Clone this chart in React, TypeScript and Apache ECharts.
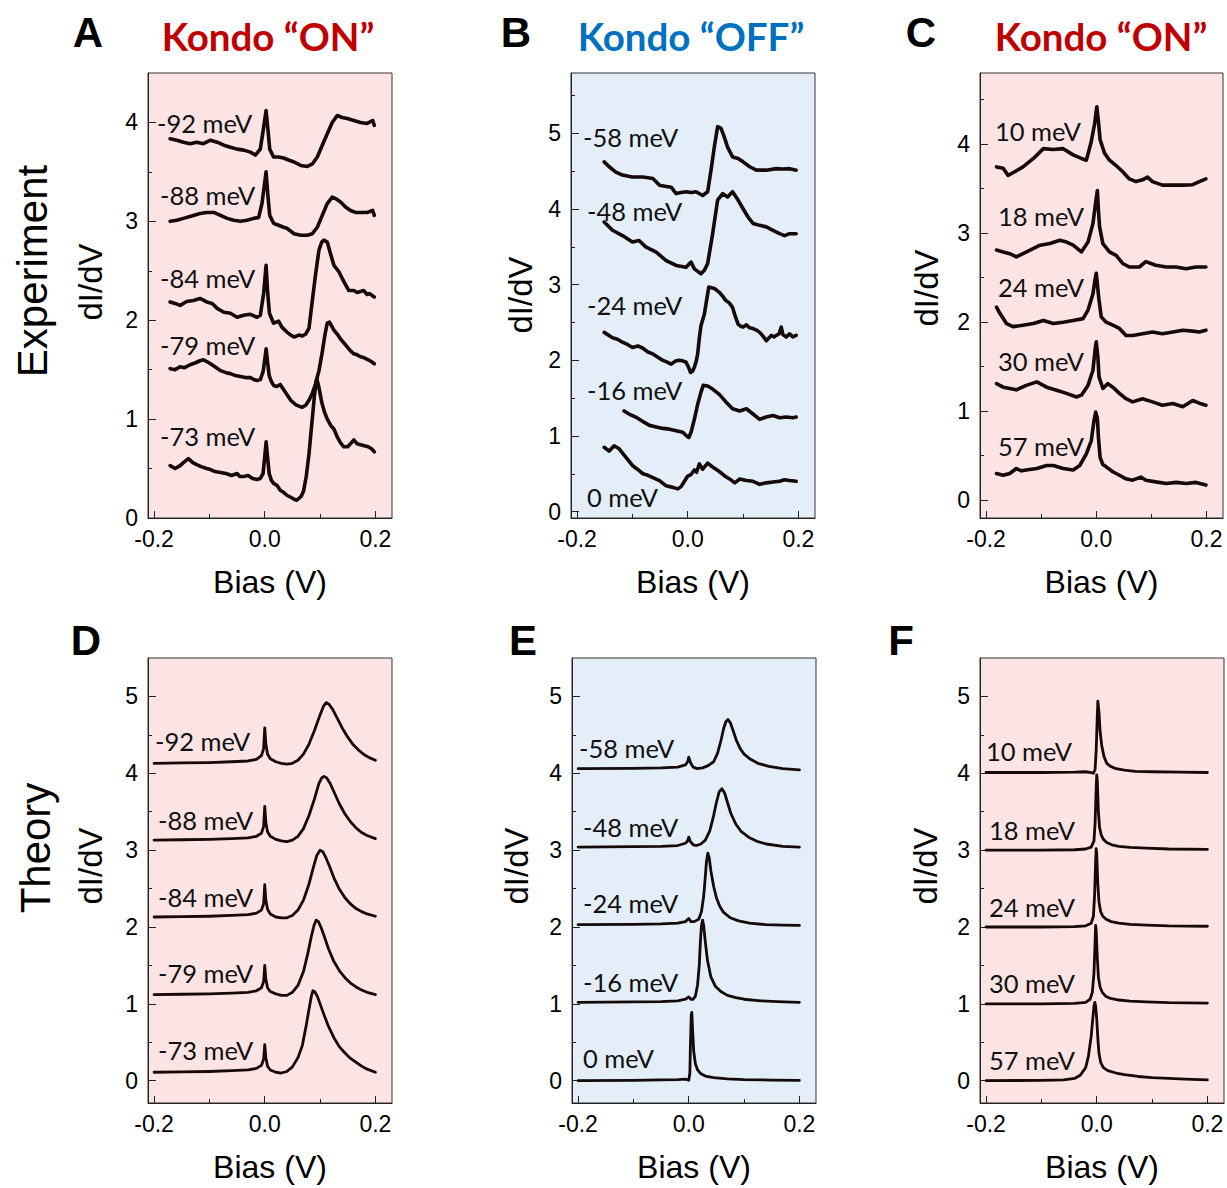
import React, { useEffect, useRef } from "react";
import * as echarts from "echarts";

// ---------- tick values ----------
const X_MAJOR = [-0.2, 0, 0.2];
const X_MINOR = [-0.1, 0.1];
const Y_MAJOR_A = [0, 1, 2, 3, 4];
const Y_MINOR_A = [0.5, 1.5, 2.5, 3.5];
const Y_MAJOR_B = [0, 1, 2, 3, 4, 5];
const Y_MINOR_B = [0.5, 1.5, 2.5, 3.5, 4.5, 5.5];
const Y_MAJOR_C = [0, 1, 2, 3, 4];
const Y_MINOR_C = [0.5, 1.5, 2.5, 3.5, 4.5];
const Y_MAJOR_T = [0, 1, 2, 3, 4, 5];
const Y_MINOR_T = [0.5, 1.5, 2.5, 3.5, 4.5];

// ---------- labels ----------
const LABELS_A = ["-73 meV", "-79 meV", "-84 meV", "-88 meV", "-92 meV"];
const LABELS_B = ["0 meV", "-16 meV", "-24 meV", "-48 meV", "-58 meV"];
const LABELS_C = ["57 meV", "30 meV", "24 meV", "18 meV", "10 meV"];

// ---------- Panel A (experiment) ----------
const A_m73 = [[-0.171,0.53],[-0.162,0.50],[-0.153,0.53],[-0.147,0.56],[-0.138,0.60],[-0.13,0.56],[-0.123,0.54],[-0.115,0.52],[-0.105,0.50],[-0.098,0.49],[-0.09,0.47],[-0.08,0.46],[-0.07,0.45],[-0.06,0.43],[-0.05,0.45],[-0.045,0.42],[-0.038,0.42],[-0.03,0.43],[-0.022,0.40],[-0.014,0.39],[-0.008,0.40],[-0.003,0.45],[0.0,0.62],[0.0025,0.77],[0.005,0.62],[0.008,0.45],[0.012,0.38],[0.016,0.35],[0.022,0.33],[0.028,0.28],[0.034,0.26],[0.04,0.23],[0.047,0.21],[0.053,0.19],[0.058,0.18],[0.062,0.20],[0.066,0.22],[0.07,0.27],[0.075,0.42],[0.08,0.65],[0.085,0.95],[0.09,1.25],[0.094,1.41],[0.098,1.32],[0.103,1.17],[0.108,1.07],[0.113,1.00],[0.12,0.93],[0.125,0.90],[0.131,0.82],[0.137,0.76],[0.143,0.72],[0.15,0.72],[0.155,0.75],[0.161,0.79],[0.167,0.75],[0.173,0.74],[0.18,0.73],[0.187,0.72],[0.193,0.70],[0.198,0.67]];
const A_m79 = [[-0.171,1.51],[-0.162,1.50],[-0.153,1.53],[-0.145,1.52],[-0.135,1.55],[-0.125,1.57],[-0.117,1.59],[-0.111,1.60],[-0.104,1.58],[-0.098,1.56],[-0.09,1.53],[-0.08,1.49],[-0.07,1.47],[-0.062,1.46],[-0.053,1.44],[-0.044,1.43],[-0.035,1.42],[-0.026,1.42],[-0.02,1.40],[-0.014,1.39],[-0.008,1.40],[-0.003,1.48],[0.0005,1.62],[0.0025,1.71],[0.005,1.58],[0.008,1.44],[0.012,1.38],[0.016,1.34],[0.022,1.33],[0.028,1.35],[0.034,1.30],[0.04,1.25],[0.047,1.19],[0.055,1.15],[0.062,1.13],[0.068,1.12],[0.074,1.14],[0.08,1.19],[0.086,1.26],[0.092,1.36],[0.098,1.49],[0.104,1.68],[0.109,1.86],[0.113,1.97],[0.117,1.98],[0.121,1.94],[0.125,1.90],[0.131,1.86],[0.137,1.81],[0.143,1.77],[0.149,1.73],[0.155,1.69],[0.161,1.66],[0.167,1.65],[0.173,1.63],[0.18,1.62],[0.187,1.60],[0.193,1.58],[0.198,1.56]];
const A_m84 = [[-0.171,2.185],[-0.162,2.17],[-0.153,2.15],[-0.141,2.19],[-0.129,2.20],[-0.117,2.22],[-0.105,2.185],[-0.095,2.17],[-0.086,2.12],[-0.074,2.08],[-0.062,2.07],[-0.05,2.03],[-0.038,2.05],[-0.026,2.06],[-0.014,2.03],[-0.008,2.05],[-0.002,2.27],[0.0024,2.555],[0.0054,2.27],[0.0085,2.07],[0.016,1.97],[0.025,1.99],[0.031,1.93],[0.04,1.88],[0.047,1.85],[0.053,1.83],[0.062,1.85],[0.068,1.84],[0.074,1.86],[0.08,1.92],[0.086,2.20],[0.092,2.47],[0.098,2.71],[0.103,2.79],[0.107,2.81],[0.113,2.79],[0.119,2.67],[0.125,2.555],[0.134,2.49],[0.143,2.39],[0.152,2.30],[0.161,2.30],[0.167,2.28],[0.173,2.29],[0.179,2.30],[0.185,2.26],[0.189,2.27],[0.198,2.235]];
const A_m88 = [[-0.171,3.00],[-0.159,3.01],[-0.147,3.03],[-0.129,3.06],[-0.117,3.08],[-0.105,3.09],[-0.092,3.09],[-0.08,3.06],[-0.068,3.03],[-0.056,3.01],[-0.044,3.00],[-0.032,3.01],[-0.02,3.03],[-0.011,3.04],[-0.005,3.18],[0.0024,3.50],[0.0054,3.28],[0.009,3.06],[0.016,2.98],[0.025,2.96],[0.034,2.94],[0.04,2.93],[0.053,2.875],[0.065,2.86],[0.077,2.86],[0.086,2.875],[0.095,2.94],[0.104,3.06],[0.113,3.18],[0.122,3.245],[0.128,3.23],[0.137,3.195],[0.146,3.145],[0.155,3.11],[0.164,3.09],[0.173,3.09],[0.185,3.09],[0.195,3.11],[0.198,3.06]];
const A_m92 = [[-0.171,3.835],[-0.159,3.82],[-0.147,3.80],[-0.135,3.785],[-0.123,3.80],[-0.111,3.785],[-0.098,3.82],[-0.086,3.80],[-0.074,3.77],[-0.062,3.75],[-0.05,3.73],[-0.038,3.72],[-0.026,3.70],[-0.017,3.67],[-0.008,3.73],[-0.002,3.95],[0.0024,4.12],[0.0054,3.95],[0.009,3.73],[0.016,3.65],[0.025,3.65],[0.034,3.64],[0.043,3.62],[0.053,3.60],[0.065,3.565],[0.077,3.555],[0.086,3.58],[0.095,3.65],[0.104,3.77],[0.113,3.885],[0.122,4.00],[0.131,4.07],[0.14,4.05],[0.149,4.04],[0.161,4.02],[0.173,4.00],[0.185,3.99],[0.195,4.02],[0.198,3.97]];

// ---------- Panel B (experiment) ----------
const B_0 = [[-0.151,0.85],[-0.142,0.80],[-0.133,0.87],[-0.124,0.83],[-0.112,0.72],[-0.1,0.61],[-0.091,0.56],[-0.081,0.50],[-0.072,0.48],[-0.063,0.45],[-0.051,0.41],[-0.039,0.34],[-0.027,0.32],[-0.018,0.30],[-0.012,0.33],[-0.006,0.40],[0.0,0.47],[0.006,0.49],[0.012,0.55],[0.016,0.52],[0.021,0.63],[0.027,0.56],[0.036,0.64],[0.045,0.59],[0.057,0.53],[0.069,0.46],[0.078,0.42],[0.085,0.38],[0.094,0.43],[0.106,0.41],[0.118,0.40],[0.13,0.36],[0.142,0.38],[0.154,0.39],[0.166,0.40],[0.175,0.42],[0.184,0.41],[0.196,0.40]];
const B_m16 = [[-0.115,1.33],[-0.106,1.29],[-0.094,1.25],[-0.081,1.19],[-0.069,1.14],[-0.057,1.12],[-0.045,1.10],[-0.033,1.09],[-0.021,1.07],[-0.009,1.05],[-0.002,1.00],[0.002,0.98],[0.006,1.05],[0.012,1.22],[0.018,1.42],[0.024,1.58],[0.028,1.67],[0.036,1.66],[0.045,1.62],[0.057,1.55],[0.069,1.45],[0.081,1.36],[0.094,1.33],[0.106,1.36],[0.118,1.29],[0.13,1.22],[0.142,1.25],[0.154,1.27],[0.166,1.24],[0.178,1.25],[0.19,1.24],[0.196,1.25]];
const B_m24 = [[-0.151,2.37],[-0.136,2.30],[-0.127,2.28],[-0.118,2.24],[-0.109,2.21],[-0.1,2.17],[-0.09,2.19],[-0.081,2.16],[-0.072,2.11],[-0.063,2.085],[-0.054,2.04],[-0.045,2.0],[-0.038,1.98],[-0.03,1.95],[-0.022,1.99],[-0.015,2.0],[-0.008,1.99],[-0.003,1.975],[0.002,1.90],[0.005,1.84],[0.009,1.86],[0.012,1.91],[0.015,1.98],[0.018,2.085],[0.021,2.30],[0.024,2.46],[0.03,2.61],[0.034,2.79],[0.038,2.97],[0.043,2.96],[0.048,2.95],[0.052,2.93],[0.057,2.90],[0.063,2.85],[0.069,2.79],[0.075,2.76],[0.081,2.70],[0.086,2.58],[0.091,2.48],[0.096,2.45],[0.1,2.44],[0.106,2.47],[0.112,2.43],[0.118,2.42],[0.124,2.40],[0.13,2.37],[0.136,2.32],[0.142,2.26],[0.147,2.30],[0.151,2.33],[0.156,2.31],[0.16,2.33],[0.165,2.35],[0.169,2.44],[0.172,2.34],[0.178,2.31],[0.184,2.35],[0.19,2.31],[0.196,2.33]];
const B_m48 = [[-0.151,3.83],[-0.136,3.72],[-0.118,3.65],[-0.1,3.565],[-0.088,3.585],[-0.076,3.50],[-0.057,3.43],[-0.039,3.32],[-0.021,3.255],[-0.003,3.23],[0.006,3.30],[0.012,3.21],[0.024,3.145],[0.03,3.19],[0.036,3.28],[0.045,3.675],[0.054,4.12],[0.063,4.205],[0.072,4.16],[0.081,4.23],[0.091,4.12],[0.1,4.005],[0.109,3.895],[0.118,3.81],[0.13,3.785],[0.142,3.765],[0.154,3.72],[0.166,3.675],[0.175,3.65],[0.184,3.675],[0.196,3.675]];
const B_m58 = [[-0.151,4.625],[-0.142,4.56],[-0.13,4.49],[-0.118,4.45],[-0.1,4.425],[-0.081,4.425],[-0.063,4.405],[-0.051,4.315],[-0.039,4.30],[-0.03,4.29],[-0.021,4.205],[-0.012,4.22],[-0.003,4.23],[0.006,4.22],[0.015,4.23],[0.027,4.18],[0.036,4.23],[0.042,4.51],[0.048,4.82],[0.054,5.09],[0.06,5.07],[0.066,4.955],[0.072,4.82],[0.081,4.69],[0.091,4.67],[0.1,4.625],[0.112,4.56],[0.124,4.515],[0.142,4.515],[0.16,4.535],[0.172,4.53],[0.184,4.535],[0.196,4.515]];

// ---------- Panel C (experiment) ----------
const C_57 = [[-0.181,0.30],[-0.169,0.28],[-0.157,0.30],[-0.145,0.356],[-0.136,0.33],[-0.127,0.34],[-0.108,0.356],[-0.09,0.39],[-0.078,0.39],[-0.06,0.356],[-0.042,0.34],[-0.03,0.39],[-0.018,0.52],[-0.009,0.67],[-0.004,0.90],[-0.001,0.99],[0.002,0.92],[0.004,0.70],[0.007,0.48],[0.012,0.40],[0.018,0.375],[0.03,0.32],[0.042,0.28],[0.054,0.24],[0.066,0.225],[0.081,0.26],[0.09,0.225],[0.108,0.206],[0.127,0.187],[0.145,0.20],[0.163,0.187],[0.181,0.20],[0.199,0.17]];
const C_30 = [[-0.181,1.31],[-0.169,1.27],[-0.157,1.255],[-0.145,1.24],[-0.127,1.29],[-0.108,1.33],[-0.09,1.27],[-0.072,1.236],[-0.054,1.20],[-0.036,1.16],[-0.027,1.18],[-0.015,1.29],[-0.006,1.46],[-0.002,1.70],[0.0,1.78],[0.003,1.60],[0.005,1.386],[0.012,1.255],[0.021,1.31],[0.03,1.27],[0.042,1.20],[0.054,1.14],[0.066,1.105],[0.084,1.14],[0.102,1.105],[0.12,1.067],[0.139,1.086],[0.157,1.05],[0.175,1.12],[0.187,1.09],[0.199,1.067]];
const C_24 = [[-0.181,2.17],[-0.175,2.10],[-0.163,1.985],[-0.151,1.95],[-0.133,1.966],[-0.114,1.985],[-0.096,2.02],[-0.078,1.985],[-0.06,2.0],[-0.042,2.02],[-0.024,2.04],[-0.015,2.135],[-0.006,2.32],[-0.003,2.45],[0.0,2.55],[0.0024,2.40],[0.005,2.25],[0.009,2.06],[0.018,2.0],[0.03,1.966],[0.042,1.93],[0.054,1.85],[0.066,1.85],[0.084,1.87],[0.102,1.89],[0.12,1.87],[0.139,1.89],[0.157,1.91],[0.175,1.90],[0.187,1.89],[0.199,1.91]];
const C_18 = [[-0.181,2.81],[-0.169,2.79],[-0.157,2.77],[-0.145,2.734],[-0.133,2.77],[-0.12,2.81],[-0.102,2.865],[-0.084,2.884],[-0.066,2.92],[-0.054,2.90],[-0.042,2.865],[-0.027,2.79],[-0.015,2.90],[-0.006,3.11],[-0.001,3.35],[0.002,3.48],[0.004,3.25],[0.006,3.07],[0.012,2.884],[0.024,2.79],[0.036,2.75],[0.048,2.66],[0.06,2.62],[0.078,2.62],[0.09,2.68],[0.108,2.64],[0.127,2.62],[0.145,2.62],[0.163,2.60],[0.181,2.62],[0.199,2.62]];
const C_10 = [[-0.181,3.745],[-0.169,3.73],[-0.16,3.65],[-0.148,3.69],[-0.133,3.745],[-0.114,3.84],[-0.096,3.95],[-0.078,3.94],[-0.06,3.95],[-0.042,3.88],[-0.027,3.84],[-0.018,3.82],[-0.009,4.03],[-0.003,4.23],[0.001,4.42],[0.004,4.25],[0.007,4.05],[0.015,3.90],[0.024,3.82],[0.036,3.76],[0.048,3.69],[0.06,3.61],[0.072,3.58],[0.084,3.60],[0.093,3.63],[0.102,3.58],[0.12,3.54],[0.139,3.54],[0.157,3.54],[0.175,3.545],[0.187,3.58],[0.199,3.61]];

// ---------- Panel D (theory) ----------
const D_m73 = [[-0.2,0.11],[-0.15,0.115],[-0.1,0.12],[-0.06,0.13],[-0.03,0.14],[-0.015,0.16],[-0.006,0.2],[-0.002,0.28],[0,0.47],[0.002,0.30],[0.005,0.19],[0.01,0.14],[0.02,0.11],[0.03,0.10],[0.04,0.12],[0.05,0.18],[0.06,0.30],[0.068,0.46],[0.075,0.72],[0.08,0.93],[0.084,1.09],[0.087,1.17],[0.09,1.16],[0.095,1.10],[0.1,1.00],[0.107,0.86],[0.115,0.71],[0.125,0.56],[0.135,0.44],[0.145,0.36],[0.155,0.29],[0.165,0.24],[0.175,0.19],[0.185,0.15],[0.2,0.11]];
const D_m79 = [[-0.2,1.12],[-0.15,1.125],[-0.1,1.13],[-0.06,1.14],[-0.03,1.15],[-0.015,1.17],[-0.006,1.21],[-0.002,1.29],[0,1.50],[0.002,1.32],[0.005,1.21],[0.01,1.16],[0.02,1.13],[0.03,1.11],[0.04,1.11],[0.05,1.15],[0.06,1.24],[0.07,1.42],[0.078,1.66],[0.084,1.87],[0.089,2.02],[0.093,2.09],[0.097,2.07],[0.102,1.99],[0.108,1.87],[0.115,1.72],[0.125,1.55],[0.135,1.43],[0.145,1.34],[0.155,1.27],[0.165,1.22],[0.175,1.18],[0.185,1.15],[0.2,1.12]];
const D_m84 = [[-0.2,2.13],[-0.15,2.135],[-0.1,2.14],[-0.06,2.15],[-0.03,2.16],[-0.015,2.18],[-0.006,2.22],[-0.002,2.30],[0,2.55],[0.002,2.35],[0.005,2.23],[0.01,2.17],[0.02,2.13],[0.03,2.12],[0.04,2.12],[0.05,2.15],[0.06,2.22],[0.07,2.35],[0.08,2.56],[0.088,2.78],[0.094,2.93],[0.1,3.00],[0.105,2.98],[0.11,2.91],[0.117,2.79],[0.125,2.64],[0.135,2.49],[0.145,2.38],[0.155,2.30],[0.165,2.24],[0.175,2.20],[0.185,2.17],[0.2,2.14]];
const D_m88 = [[-0.2,3.13],[-0.15,3.135],[-0.1,3.14],[-0.06,3.15],[-0.03,3.16],[-0.015,3.18],[-0.006,3.22],[-0.002,3.31],[0,3.57],[0.002,3.36],[0.005,3.24],[0.01,3.18],[0.02,3.14],[0.03,3.12],[0.04,3.11],[0.05,3.13],[0.06,3.18],[0.07,3.28],[0.08,3.45],[0.09,3.67],[0.098,3.87],[0.103,3.94],[0.107,3.96],[0.112,3.94],[0.118,3.87],[0.125,3.76],[0.135,3.60],[0.145,3.47],[0.155,3.37],[0.165,3.29],[0.175,3.23],[0.185,3.19],[0.2,3.15]];
const D_m92 = [[-0.2,4.13],[-0.15,4.135],[-0.1,4.14],[-0.06,4.15],[-0.03,4.16],[-0.015,4.18],[-0.006,4.23],[-0.002,4.32],[0,4.59],[0.002,4.38],[0.005,4.25],[0.01,4.19],[0.02,4.15],[0.03,4.13],[0.04,4.12],[0.05,4.13],[0.06,4.17],[0.07,4.25],[0.08,4.38],[0.09,4.56],[0.1,4.76],[0.106,4.87],[0.111,4.92],[0.116,4.90],[0.122,4.84],[0.13,4.73],[0.14,4.59],[0.15,4.47],[0.16,4.37],[0.17,4.30],[0.18,4.24],[0.19,4.20],[0.2,4.17]];

// ---------- Panel E (theory) ----------
const E_0 = [[-0.2,0.0],[-0.1,0.005],[-0.05,0.01],[-0.02,0.015],[-0.005,0.02],[0,0.005],[0.002,0.1],[0.003,0.45],[0.0045,0.85],[0.0055,0.89],[0.007,0.65],[0.009,0.38],[0.012,0.22],[0.016,0.14],[0.022,0.09],[0.03,0.06],[0.045,0.04],[0.07,0.025],[0.1,0.015],[0.15,0.008],[0.2,0.005]];
const E_m16 = [[-0.2,1.02],[-0.1,1.025],[-0.05,1.03],[-0.02,1.04],[-0.006,1.06],[0,1.09],[0.004,1.06],[0.008,1.06],[0.012,1.10],[0.016,1.25],[0.019,1.50],[0.021,1.80],[0.023,2.02],[0.025,2.09],[0.027,2.02],[0.03,1.80],[0.034,1.56],[0.04,1.35],[0.048,1.23],[0.058,1.16],[0.07,1.11],[0.085,1.08],[0.1,1.06],[0.13,1.04],[0.16,1.03],[0.2,1.02]];
const E_m24 = [[-0.2,2.03],[-0.1,2.035],[-0.05,2.04],[-0.02,2.05],[-0.006,2.07],[0,2.11],[0.004,2.07],[0.01,2.07],[0.018,2.10],[0.023,2.20],[0.027,2.40],[0.03,2.66],[0.032,2.85],[0.0345,2.96],[0.037,2.90],[0.04,2.73],[0.045,2.53],[0.05,2.38],[0.056,2.27],[0.063,2.19],[0.075,2.12],[0.09,2.08],[0.11,2.05],[0.14,2.03],[0.17,2.025],[0.2,2.02]];
const E_m48 = [[-0.2,3.04],[-0.1,3.045],[-0.05,3.05],[-0.02,3.06],[-0.006,3.09],[-0.002,3.12],[0,3.17],[0.003,3.11],[0.008,3.07],[0.014,3.06],[0.022,3.08],[0.03,3.13],[0.038,3.25],[0.045,3.45],[0.05,3.62],[0.055,3.76],[0.06,3.80],[0.065,3.74],[0.07,3.62],[0.076,3.48],[0.085,3.34],[0.095,3.24],[0.11,3.16],[0.125,3.11],[0.14,3.08],[0.17,3.05],[0.2,3.04]];
const E_m58 = [[-0.2,4.06],[-0.1,4.065],[-0.05,4.07],[-0.02,4.08],[-0.006,4.11],[-0.002,4.15],[0,4.21],[0.003,4.14],[0.008,4.08],[0.015,4.06],[0.025,4.07],[0.035,4.10],[0.045,4.15],[0.052,4.26],[0.058,4.42],[0.063,4.58],[0.067,4.67],[0.071,4.70],[0.075,4.66],[0.08,4.56],[0.086,4.43],[0.093,4.32],[0.1,4.25],[0.11,4.19],[0.125,4.13],[0.145,4.09],[0.17,4.06],[0.2,4.045]];

// ---------- Panel F (theory) ----------
const F_57 = [[-0.2,0.0],[-0.1,0.005],[-0.06,0.01],[-0.04,0.03],[-0.03,0.07],[-0.02,0.17],[-0.015,0.32],[-0.01,0.58],[-0.007,0.82],[-0.005,0.97],[-0.0035,1.02],[-0.002,0.97],[0,0.80],[0.002,0.55],[0.004,0.36],[0.007,0.24],[0.012,0.17],[0.02,0.13],[0.035,0.10],[0.05,0.08],[0.075,0.055],[0.1,0.04],[0.13,0.03],[0.16,0.02],[0.2,0.01]];
const F_30 = [[-0.2,1.0],[-0.1,1.0],[-0.04,1.005],[-0.02,1.02],[-0.012,1.06],[-0.008,1.15],[-0.005,1.40],[-0.003,1.80],[-0.002,2.02],[-0.001,1.95],[0.001,1.60],[0.003,1.35],[0.006,1.22],[0.01,1.15],[0.016,1.10],[0.025,1.07],[0.04,1.05],[0.06,1.035],[0.09,1.025],[0.13,1.015],[0.2,1.01]];
const F_24 = [[-0.2,2.0],[-0.1,2.0],[-0.04,2.005],[-0.02,2.015],[-0.01,2.05],[-0.006,2.14],[-0.004,2.40],[-0.002,2.85],[-0.001,3.02],[0.0,2.95],[0.002,2.55],[0.004,2.33],[0.007,2.2],[0.011,2.14],[0.017,2.1],[0.026,2.07],[0.04,2.05],[0.06,2.035],[0.09,2.025],[0.13,2.015],[0.2,2.01]];
const F_18 = [[-0.2,3.0],[-0.1,3.0],[-0.04,3.005],[-0.02,3.015],[-0.01,3.04],[-0.005,3.12],[-0.003,3.35],[-0.001,3.8],[0.0,3.98],[0.001,3.9],[0.003,3.5],[0.005,3.3],[0.008,3.2],[0.012,3.14],[0.018,3.1],[0.027,3.07],[0.04,3.05],[0.06,3.035],[0.09,3.025],[0.13,3.015],[0.2,3.01]];
const F_10 = [[-0.2,4.01],[-0.1,4.01],[-0.04,4.015],[-0.02,4.02],[-0.01,4.01],[-0.006,4.0],[-0.003,4.05],[-0.001,4.3],[0.001,4.75],[0.002,4.94],[0.004,4.80],[0.006,4.55],[0.009,4.36],[0.013,4.22],[0.018,4.13],[0.025,4.09],[0.035,4.06],[0.05,4.04],[0.07,4.025],[0.1,4.02],[0.15,4.015],[0.2,4.01]];

// ---------- layout / style ----------
const PINK = "#fde4e4";
const BLUE = "#e4eef8";
const LINE = "#150909";
const RED = "#c00000";
const BLUE_T = "#0070c0";
const ARIAL = "Liberation Sans, Arial, sans-serif";
const CALI = "Lato, 'Open Sans', sans-serif";

const PANELS = [
  { box: { left: 148, top: 73, width: 244, height: 445 }, bg: PINK, yMin: 0, yMax: 4.5, yMajor: Y_MAJOR_A, yMinor: Y_MINOR_A, curves: [A_m73, A_m79, A_m84, A_m88, A_m92], lw: 3.6 },
  { box: { left: 571, top: 73, width: 244, height: 445 }, bg: BLUE, yMin: -0.085, yMax: 5.8, yMajor: Y_MAJOR_B, yMinor: Y_MINOR_B, curves: [B_0, B_m16, B_m24, B_m48, B_m58], lw: 3.6 },
  { box: { left: 980, top: 73, width: 243, height: 445 }, bg: PINK, yMin: -0.2, yMax: 4.8, yMajor: Y_MAJOR_C, yMinor: Y_MINOR_C, curves: [C_57, C_30, C_24, C_18, C_10], lw: 3.6 },
  { box: { left: 148, top: 658, width: 244, height: 445 }, bg: PINK, yMin: -0.29, yMax: 5.5, yMajor: Y_MAJOR_T, yMinor: Y_MINOR_T, curves: [D_m73, D_m79, D_m84, D_m88, D_m92], lw: 2.8 },
  { box: { left: 572, top: 658, width: 244, height: 445 }, bg: BLUE, yMin: -0.29, yMax: 5.5, yMajor: Y_MAJOR_T, yMinor: Y_MINOR_T, curves: [E_0, E_m16, E_m24, E_m48, E_m58], lw: 2.8 },
  { box: { left: 980, top: 658, width: 244, height: 445 }, bg: PINK, yMin: -0.29, yMax: 5.5, yMajor: Y_MAJOR_T, yMinor: Y_MINOR_T, curves: [F_57, F_30, F_24, F_18, F_10], lw: 2.8 },
];

// curve label anchors (left x, middle y) in page pixels, per panel, bottom curve first
const LABEL_POS = [
  [[160, 436], [160, 345], [160, 278], [160, 195], [157, 123]],
  [[587, 497], [587, 390], [587, 305], [587, 211], [583, 137]],
  [[998, 446], [998, 361], [998, 287], [998, 216], [995, 131]],
  [[158, 1050], [158, 973], [158, 897], [158, 820], [155, 741]],
  [[583, 1058], [583, 982], [583, 903], [583, 827], [579, 748]],
  [[989, 1060], [989, 983], [989, 907], [989, 830], [986, 751]],
];
const PANEL_LABELS = [LABELS_A, LABELS_B, LABELS_C, LABELS_A, LABELS_B, LABELS_C];

function buildOption() {
  const grid: any[] = [];
  const xAxis: any[] = [];
  const yAxis: any[] = [];
  const series: any[] = [];
  const graphic: any[] = [];
  const axisLine = { show: true, onZero: false, lineStyle: { color: "#222", width: 1 } };
  const noLine = { show: false, onZero: false };

  PANELS.forEach((p, g) => {
    grid.push({ ...p.box, show: true, backgroundColor: p.bg, borderColor: "#333", borderWidth: 1, containLabel: false });
    xAxis.push({
      gridIndex: g, type: "value", min: -0.211, max: 0.23, position: "bottom",
      axisLine, splitLine: { show: false },
      axisTick: { show: true, inside: true, length: 7, customValues: X_MAJOR, lineStyle: { color: "#222" } },
      axisLabel: { show: true, customValues: X_MAJOR, formatter: (v: number) => v.toFixed(1), fontSize: 23, color: "#000", fontFamily: ARIAL, margin: 9 },
    });
    xAxis.push({
      gridIndex: g, type: "value", min: -0.211, max: 0.23, position: "bottom",
      axisLine: noLine, splitLine: { show: false },
      axisTick: { show: true, inside: true, length: 4, customValues: X_MINOR, lineStyle: { color: "#222" } },
      axisLabel: { show: false },
    });
    yAxis.push({
      gridIndex: g, type: "value", min: p.yMin, max: p.yMax, position: "left",
      axisLine, splitLine: { show: false },
      axisTick: { show: true, inside: true, length: 8, customValues: p.yMajor, lineStyle: { color: "#222" } },
      axisLabel: { show: true, customValues: p.yMajor, formatter: (v: number) => String(Math.round(v)), fontSize: 23, color: "#000", fontFamily: ARIAL, margin: 10 },
    });
    yAxis.push({
      gridIndex: g, type: "value", min: p.yMin, max: p.yMax, position: "left",
      axisLine: noLine, splitLine: { show: false },
      axisTick: { show: true, inside: true, length: 4, customValues: p.yMinor, lineStyle: { color: "#222" } },
      axisLabel: { show: false },
    });
    p.curves.forEach((c) => {
      series.push({
        type: "line", xAxisIndex: 2 * g, yAxisIndex: 2 * g, data: c,
        symbol: "none", showSymbol: false, smooth: false, silent: true,
        lineStyle: { color: LINE, width: p.lw, join: "round", cap: "round" },
      });
    });
    PANEL_LABELS[g].forEach((t, i) => {
      const [lx, ly] = LABEL_POS[g][i];
      graphic.push({ type: "text", x: lx, y: ly, style: { text: t, font: `25.5px ${CALI}`, fill: "#111", textAlign: "left", textVerticalAlign: "middle" } });
    });
    const cx = p.box.left + p.box.width / 2;
    graphic.push({ type: "text", x: cx, y: p.box.top + p.box.height + 64, style: { text: "Bias (V)", font: `32px ${ARIAL}`, fill: "#000", textAlign: "center", textVerticalAlign: "middle" } });
  });

  const dIdV = [[90, 282], [520, 295], [926, 288], [90, 866], [516, 866], [925, 866]];
  dIdV.forEach(([x, y]) => {
    graphic.push({ type: "text", x, y, rotation: Math.PI / 2, style: { text: "dI/dV", font: `33px ${ARIAL}`, fill: "#000", textAlign: "center", textVerticalAlign: "middle" } });
  });

  graphic.push({ type: "text", x: 32, y: 271, rotation: Math.PI / 2, style: { text: "Experiment", font: `42px ${ARIAL}`, fill: "#000", textAlign: "center", textVerticalAlign: "middle" } });
  graphic.push({ type: "text", x: 35, y: 848, rotation: Math.PI / 2, style: { text: "Theory", font: `42px ${ARIAL}`, fill: "#000", textAlign: "center", textVerticalAlign: "middle" } });

  const letters: [string, number, number][] = [["A", 88, 32], ["B", 516, 32], ["C", 921, 32], ["D", 86, 640], ["E", 523, 640], ["F", 901, 640]];
  letters.forEach(([t, x, y]) => {
    graphic.push({ type: "text", x, y, style: { text: t, font: `bold 42px ${ARIAL}`, fill: "#000", textAlign: "center", textVerticalAlign: "middle" } });
  });

  const titles: [string, number, string][] = [["Kondo \u201CON\u201D", 268, RED], ["Kondo \u201COFF\u201D", 691, BLUE_T], ["Kondo \u201CON\u201D", 1101, RED]];
  titles.forEach(([t, x, col]) => {
    graphic.push({ type: "text", x, y: 36, style: { text: t, font: `bold 38.5px ${CALI}`, fill: col, textAlign: "center", textVerticalAlign: "middle" } });
  });

  return { animation: false, backgroundColor: "#ffffff", grid, xAxis, yAxis, series, graphic };
}

export default function App() {
  const ref = useRef<HTMLDivElement>(null);
  useEffect(() => {
    if (!ref.current) return;
    const chart = echarts.init(ref.current, undefined, { renderer: "svg" });
    chart.setOption(buildOption() as any);
    return () => chart.dispose();
  }, []);
  return <div ref={ref} style={{ position: "absolute", left: 0, top: 0, width: 1227, height: 1188, background: "#fff" }} />;
}
